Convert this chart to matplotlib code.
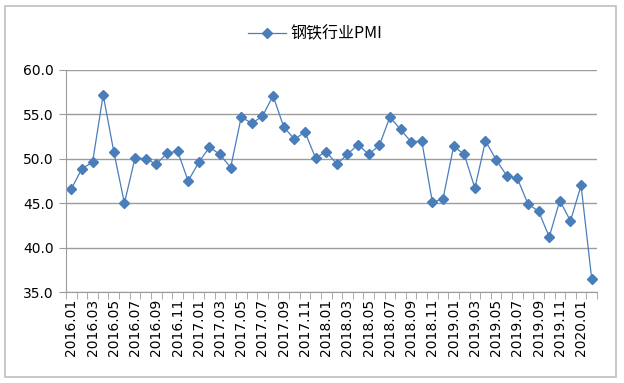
import matplotlib
matplotlib.use("Agg")
import matplotlib.pyplot as plt
from matplotlib.patches import Rectangle

plt.rcParams['font.family'] = ['DejaVu Sans']

# monthly steel industry PMI, 2016.01 - 2020.02
months = []
for yr in range(2016, 2021):
    for m in range(1, 13):
        months.append("%d.%02d" % (yr, m))
months = months[:50]

pmi = [46.6, 48.9, 49.6, 57.2, 50.8, 45.0, 50.1, 50.0, 49.4, 50.6, 50.9, 47.5,
       49.6, 51.3, 50.5, 49.0, 54.7, 54.0, 54.8, 57.1, 53.6, 52.2, 53.0, 50.1,
       50.8, 49.4, 50.5, 51.6, 50.5, 51.5, 54.7, 53.3, 51.9, 52.0, 45.1, 45.5,
       51.4, 50.5, 46.7, 52.0, 49.9, 48.1, 47.8, 44.9, 44.1, 41.2, 45.3, 43.0,
       47.0, 36.5]

yticks = [35, 40, 45, 50, 55, 60]
blue = '#4A7EBB'
gray = '#9C9C9C'

fig = plt.figure(figsize=(6.24, 3.83), dpi=100)
fig.patches.append(Rectangle((5 / 624, 6 / 383), 611 / 624, 371 / 383,
                             transform=fig.transFigure, fill=False,
                             edgecolor='#BFBFBF', lw=1.2))

ax = fig.add_axes([66 / 624, 1 - 292 / 383, 531 / 624, 222 / 383])
x = list(range(len(pmi)))
ax.plot(x, pmi, color=blue, lw=0.9, marker='D', markersize=5.5,
        markerfacecolor=blue, markeredgecolor=blue, label='钢铁行业PMI')

ax.set_xlim(-0.5, len(pmi) - 0.5)
ax.set_ylim(35, 60)
ax.set_yticks(yticks)
ax.set_yticklabels(["%.1f" % v for v in yticks], fontsize=10)
ax.yaxis.grid(True, color=gray, lw=1)
ax.set_axisbelow(True)

ax.set_xticks(x[::2])
ax.set_xticklabels(months[::2], rotation=90, fontsize=10)
ax.set_xticks([i - 0.5 for i in range(len(pmi) + 1)], minor=True)
ax.tick_params(axis='x', which='major', length=0, pad=5)
ax.tick_params(axis='x', which='minor', length=5, color=gray)
ax.tick_params(axis='y', length=5, color=gray, pad=4)

for s in ['top', 'right']:
    ax.spines[s].set_visible(False)
for s in ['left', 'bottom']:
    ax.spines[s].set_color(gray)

leg = fig.legend(loc='center', bbox_to_anchor=(315 / 624, 1 - 34 / 383),
                 frameon=False, handlelength=2.4, handletextpad=0.3,
                 prop={'family': ['Noto Sans CJK SC', 'DejaVu Sans'], 'size': 11.5})

fig.savefig('out.png', dpi=100)
